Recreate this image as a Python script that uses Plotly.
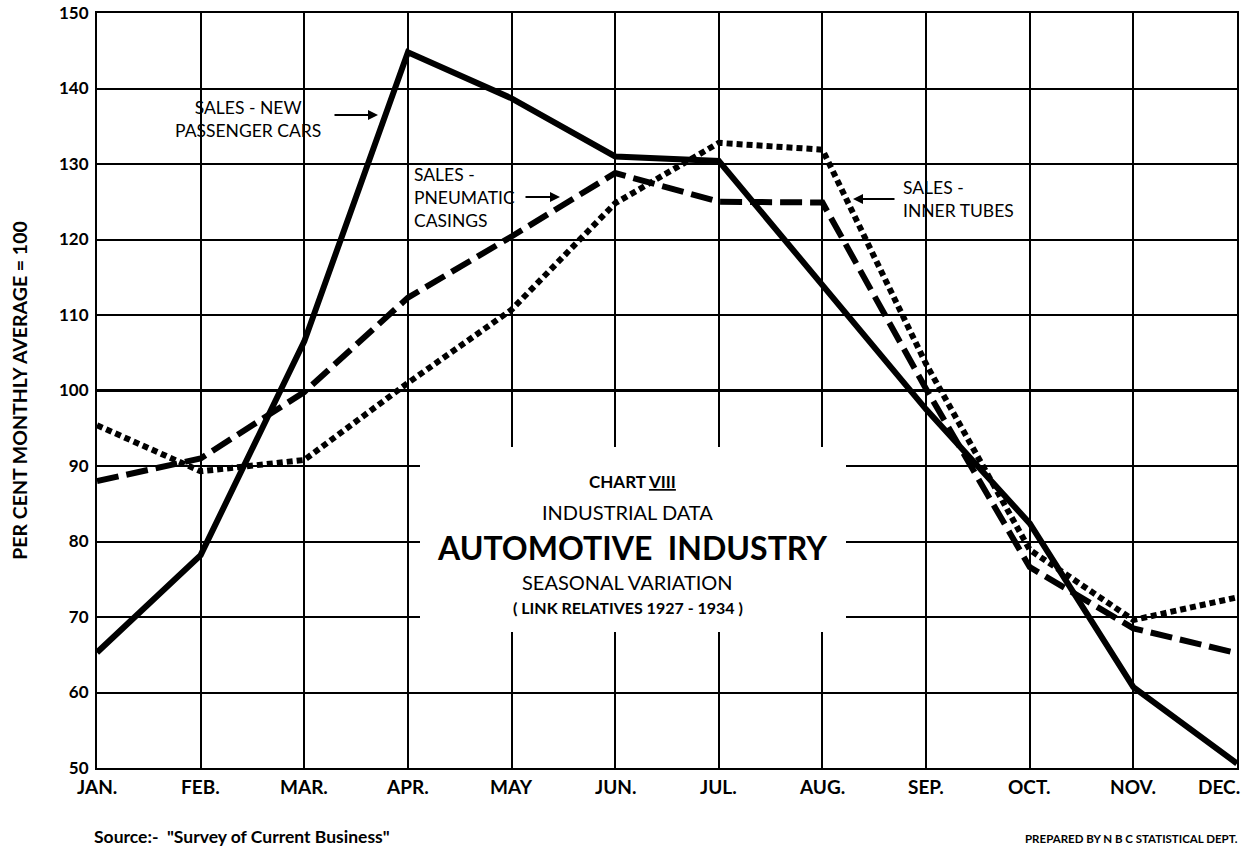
import plotly.graph_objects as go

months = ["JAN.", "FEB.", "MAR.", "APR.", "MAY", "JUN.", "JUL.", "AUG.", "SEP.", "OCT.", "NOV.", "DEC."]
new_cars = [65.3, 78.2, 106.5, 144.8, 138.7, 131.0, 130.4, 114.0, 97.5, 82.4, 60.7, 50.6]
casings = [88.0, 91.0, 99.8, 112.3, 120.4, 128.8, 125.0, 124.9, 100.2, 76.6, 68.5, 65.2]
inner_tubes = [95.4, 89.3, 90.8, 101.0, 110.7, 124.8, 132.8, 131.9, 103.5, 78.9, 69.6, 72.6]
y_ticks = [50, 60, 70, 80, 90, 100, 110, 120, 130, 140, 150]

W, H = 1248, 848
L, R, T, B = 97, 1237, 13, 768

def px_x(p):
    return (p - L) / (R - L) * 11

def px_y(p):
    return 50 + (B - p) / (B - T) * 100

def paper_x(p):
    return (p - L) / (R - L)

def paper_y(p):
    return (B - p) / (B - T)

FONT = "Lato"
x = list(range(len(months)))

fig = go.Figure()
fig.add_trace(go.Scatter(x=x, y=inner_tubes, mode="lines", name="Sales - Inner Tubes",
                         line=dict(color="black", width=6, dash="6px,4px")))
fig.add_trace(go.Scatter(x=x, y=casings, mode="lines", name="Sales - Pneumatic Casings",
                         line=dict(color="black", width=6, dash="22px,8px")))
fig.add_trace(go.Scatter(x=x, y=new_cars, mode="lines", name="Sales - New Passenger Cars",
                         line=dict(color="black", width=6)))

shapes = [
    dict(type="rect", xref="x", yref="y", x0=px_x(420), x1=px_x(846), y0=px_y(632), y1=px_y(447),
         fillcolor="white", line=dict(width=0), layer="between"),
    dict(type="line", xref="x", yref="y", x0=0, x1=11, y0=100, y1=100,
         line=dict(color="black", width=3), layer="between"),
]

ann = []
# x tick labels
for i, m in enumerate(months):
    a = dict(x=i, y=0, xref="x", yref="paper", text=m, showarrow=False,
             yanchor="top", yshift=-5, font=dict(family=FONT, size=19, color="black", weight="bold"))
    if i == len(months) - 1:
        a.update(xanchor="right", xshift=5)
    else:
        a.update(xanchor="center")
    ann.append(a)

def txt(text, px, py, size, anchor="center", bold=False, align="center"):
    ann.append(dict(x=px_x(px), y=px_y(py), xref="x", yref="y", text=text, showarrow=False,
                    xanchor=anchor, yanchor="middle", align=align,
                    font=dict(family=FONT, size=size, color="black", weight="bold" if bold else "normal")))

def arrow(hx, hy, tx):
    ann.append(dict(x=px_x(hx), y=px_y(hy), xref="x", yref="y", text="", showarrow=True,
                    ax=tx - hx, ay=0, arrowhead=2, arrowsize=1, arrowwidth=2, arrowcolor="black"))

txt("SALES - NEW<br>PASSENGER CARS", 248, 119, 17.5)
arrow(378, 115, 333)

txt("SALES -<br>PNEUMATIC<br>CASINGS", 412, 197, 17.5, anchor="left", align="left")
arrow(560, 197, 524)

txt("SALES -<br>INNER TUBES", 901, 199, 17.5, anchor="left", align="left")
arrow(853, 199, 896)

txt("CHART <u>VIII</u>", 632, 481, 17, bold=True)
txt("INDUSTRIAL DATA", 627, 512, 20)
txt("AUTOMOTIVE  INDUSTRY", 632, 547, 32, bold=True)
txt("SEASONAL VARIATION", 627, 582, 20)
txt("( LINK RELATIVES 1927 - 1934 )", 628, 607, 16, bold=True)

ann.append(dict(x=paper_x(92), y=paper_y(836), xref="paper", yref="paper",
                text='Source:-  "Survey of Current Business"',
                showarrow=False, xanchor="left", yanchor="middle",
                font=dict(family=FONT, size=17.5, color="black", weight="bold")))
ann.append(dict(x=paper_x(1240), y=paper_y(838), xref="paper", yref="paper",
                text="PREPARED BY N B C STATISTICAL DEPT.",
                showarrow=False, xanchor="right", yanchor="middle",
                font=dict(family=FONT, size=11.5, color="black", weight="bold")))

fig.update_layout(
    width=W, height=H,
    margin=dict(l=L, r=W - R, t=T, b=H - B, autoexpand=False),
    paper_bgcolor="white", plot_bgcolor="white",
    showlegend=False,
    shapes=shapes,
    annotations=ann,
    xaxis=dict(range=[0, 11], tickvals=x, showticklabels=False, showgrid=True,
               gridcolor="black", gridwidth=1.5, zeroline=False, automargin=False,
               showline=True, mirror=True, linecolor="black", linewidth=2, ticks=""),
    yaxis=dict(range=[50, 150], tickvals=y_ticks, showgrid=True, gridcolor="black", gridwidth=1.5,
               zeroline=False, showline=True, mirror=True, linecolor="black", linewidth=2, ticks="",
               ticklabelstandoff=3, automargin=False,
               tickfont=dict(family=FONT, size=17, color="black", weight="bold"),
               title=dict(text="PER CENT MONTHLY AVERAGE = 100", standoff=26,
                          font=dict(family=FONT, size=19.5, color="black", weight="bold"))),
)

fig.write_html("out.html", config={"displayModeBar": False},
               post_script="document.body.style.margin='0';")
